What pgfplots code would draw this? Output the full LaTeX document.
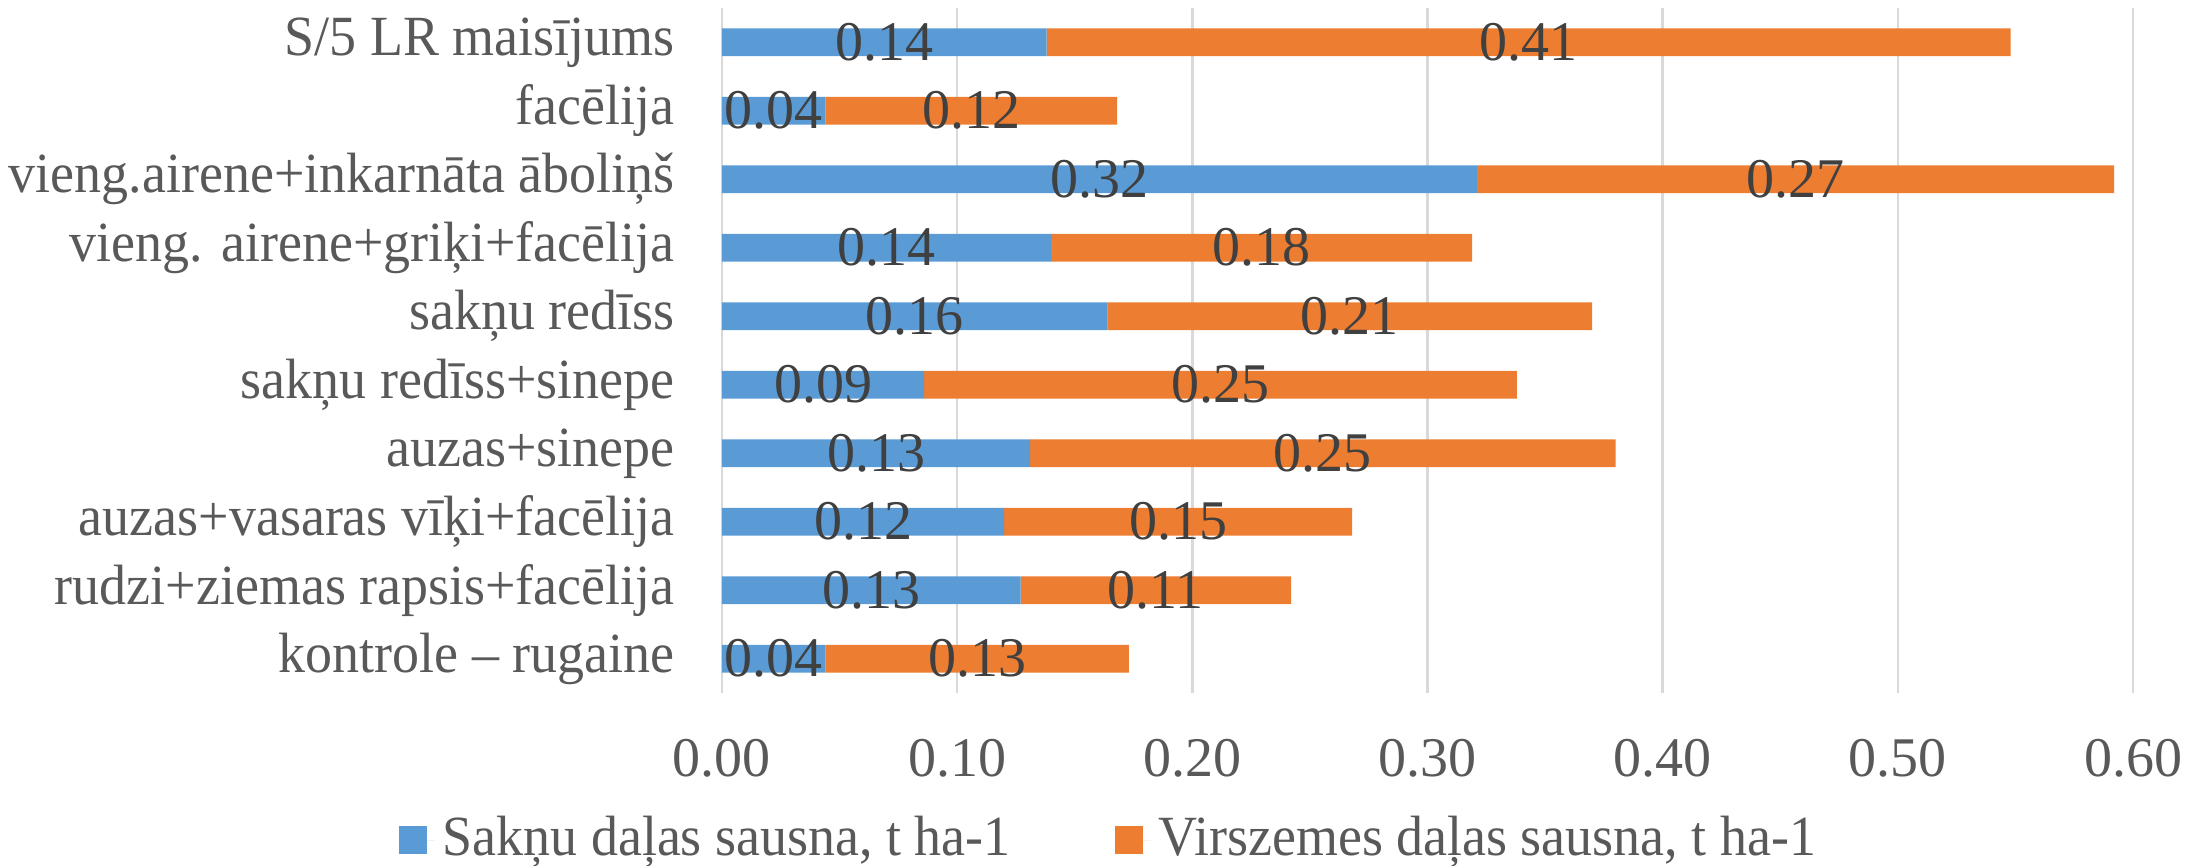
\documentclass[border=0pt]{standalone}
\usepackage{fontspec}
\setmainfont{Liberation Serif}
\newfontfamily\catfont[FakeStretch=0.95]{Liberation Serif}
\usepackage{pgfplots}
\pgfplotsset{compat=1.18}
\definecolor{cblue}{HTML}{5B9BD5}
\definecolor{corange}{HTML}{ED7D31}
\definecolor{lbl}{HTML}{595959}
\definecolor{dlbl}{HTML}{404040}
\definecolor{gridc}{HTML}{D9D9D9}
\begin{document}
\fontsize{14bp}{16.8bp}\selectfont
\begin{tikzpicture}
\begin{axis}[
  at={(0,0)}, anchor=south west,
  scale only axis, width=352.75bp, height=171.25bp,
  xbar stacked, bar width=6.9bp,
  xmin=0, xmax=0.6, ymin=-0.5, ymax=9.5,
  xtick={0,0.1,0.2,0.3,0.4,0.5,0.6},
  xmajorgrids, grid style={gridc, line width=0.6bp},
  axis line style={draw=none},
  major tick length=0pt,
  ytick={0,1,2,3,4,5,6,7,8,9},
  yticklabels={kontrole – rugaine, rudzi+ziemas rapsis+facēlija, auzas+vasaras vīķi+facēlija, auzas+sinepe, sakņu redīss+sinepe, sakņu redīss, vieng. airene+griķi+facēlija, vieng.airene+inkarnāta āboliņš, facēlija, S/5 LR maisījums},
  yticklabel style={text=lbl, xshift=-7bp, font=\catfont\fontsize{14.2bp}{17bp}\selectfont},
  /pgf/number format/assume math mode=true,
  xticklabel style={text=lbl, yshift=-6.7bp, /pgf/number format/fixed, /pgf/number format/fixed zerofill, /pgf/number format/precision=2},
  legend style={at={(0.276,-0.2146)}, anchor=center, draw=none, fill=none, text=lbl, legend columns=2,
    font=\catfont\fontsize{14.2bp}{17bp}\selectfont,
    /tikz/every even column/.append style={column sep=24bp}},
  legend image code/.code={\fill[#1] (0bp,-3.5bp) rectangle (7bp,3.5bp); \path (0bp,0bp) -- (9bp,0bp);},
]
\addplot[fill=cblue, draw=none] coordinates {
(0.044,0) (0.127,1) (0.120,2) (0.131,3) (0.086,4) (0.164,5) (0.140,6) (0.321,7) (0.044,8) (0.138,9)};
\addlegendentry{Sakņu daļas sausna, t ha-1}
\addplot[fill=corange, draw=none] coordinates {
(0.129,0) (0.115,1) (0.148,2) (0.249,3) (0.252,4) (0.206,5) (0.179,6) (0.271,7) (0.124,8) (0.410,9)};
\addlegendentry{Virszemes daļas sausna, t ha-1}
\end{axis}
\begin{axis}[
  at={(0,0)}, anchor=south west,
  scale only axis, width=352.75bp, height=171.25bp,
  xmin=0, xmax=0.6, ymin=-0.5, ymax=9.5, hide axis]
\addplot[draw=none, mark=none, nodes near coords, point meta=explicit symbolic,
  every node near coord/.append style={anchor=center, text=dlbl, inner sep=0pt}] coordinates {
(0.022,0) [0.04] (0.0635,1) [0.13] (0.060,2) [0.12] (0.0655,3) [0.13] (0.043,4) [0.09]
(0.082,5) [0.16] (0.070,6) [0.14] (0.1605,7) [0.32] (0.022,8) [0.04] (0.069,9) [0.14]
(0.1085,0) [0.13] (0.1845,1) [0.11] (0.194,2) [0.15] (0.2555,3) [0.25] (0.212,4) [0.25]
(0.267,5) [0.21] (0.2295,6) [0.18] (0.4565,7) [0.27] (0.106,8) [0.12] (0.343,9) [0.41]};
\end{axis}
\pgfresetboundingbox
\path (-180.5bp,-43.25bp) rectangle (371bp,173.25bp);
\end{tikzpicture}
\end{document}
